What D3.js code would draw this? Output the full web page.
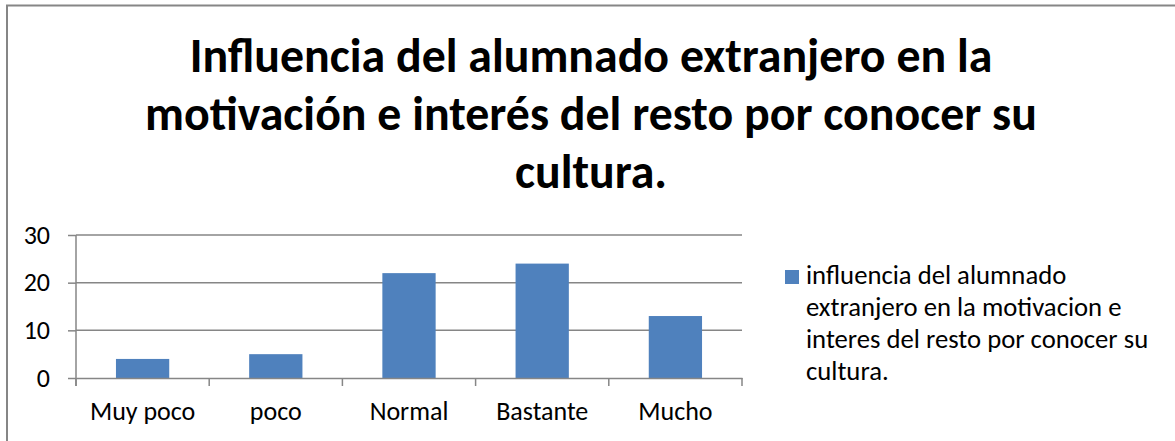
<!DOCTYPE html>
<meta charset="utf-8">
<style>
body { margin: 0; background: #fff; }
text { font-family: Calibri, Carlito, Lato, "Open Sans", sans-serif; fill: #000; }
.grid line { stroke: #868686; stroke-width: 1.5px; }
.axis path, .axis line { stroke: #868686; stroke-width: 1.5px; }
.axis text { font-size: 26px; }
</style>
<svg width="1175" height="441"></svg>
<script src="https://cdn.jsdelivr.net/npm/d3@7"></script>
<script>
var categories = ["Muy poco", "poco", "Normal", "Bastante", "Mucho"];
var values = [4, 5, 22, 24, 13];
var yTicks = [0, 10, 20, 30];
var titleLines = ["Influencia del alumnado extranjero en la",
                  "motivación e interés del resto por conocer su",
                  "cultura."];
var legendLines = ["influencia del alumnado",
                   "extranjero en la motivacion e",
                   "interes del resto por conocer su",
                   "cultura."];

var svg = d3.select("svg"),
    margin = {top: 235, left: 76},
    width = 742 - 76,
    height = 378 - 235,
    g = svg.append("g").attr("transform", "translate(" + margin.left + "," + margin.top + ")");

// chart border (right/bottom edges run off the picture)
svg.append("rect")
    .attr("x", 7).attr("y", 5.5)
    .attr("width", 1200).attr("height", 500)
    .style("fill", "none")
    .style("stroke", "#868686")
    .style("stroke-width", 2);

// title, scaled to the measured width of the first line
var title = svg.append("text")
    .attr("text-anchor", "middle")
    .style("font-weight", "bold")
    .style("font-size", "46px");
title.selectAll("tspan")
    .data(titleLines)
  .enter().append("tspan")
    .attr("x", 591)
    .attr("y", function(d, i) { return 72 + i * 58; })
    .text(function(d) { return d; });
var w0 = title.select("tspan").node().getComputedTextLength();
title.style("font-size", (46 * 803 / w0) + "px");

var x = d3.scaleBand().domain(categories).range([0, width]),
    y = d3.scaleLinear().domain([0, 30]).range([height, 0]);

g.append("g")
    .attr("class", "grid")
  .selectAll("line")
    .data(yTicks.slice(1))
  .enter().append("line")
    .attr("x1", 0).attr("x2", width)
    .attr("y1", function(d) { return y(d); })
    .attr("y2", function(d) { return y(d); });

g.selectAll(".bar")
    .data(values)
  .enter().append("rect")
    .attr("class", "bar")
    .attr("x", function(d, i) { return x(categories[i]) + x.bandwidth() * 0.3; })
    .attr("width", x.bandwidth() * 0.4)
    .attr("y", function(d) { return y(d); })
    .attr("height", function(d) { return height - y(d); })
    .style("fill", "#4F81BD");

var xAxis = g.append("g")
    .attr("class", "axis")
    .attr("transform", "translate(0," + height + ")")
    .call(d3.axisBottom(x).tickSize(0).tickSizeOuter(0));
xAxis.selectAll(".tick line").remove();
// Excel-style ticks between categories
xAxis.selectAll(".sep")
    .data(d3.range(categories.length + 1))
  .enter().append("line")
    .attr("x1", function(i) { return i * x.step(); })
    .attr("x2", function(i) { return i * x.step(); })
    .attr("y1", 0).attr("y2", 8);
xAxis.selectAll("text").attr("y", 42).attr("dy", 0);

var yAxis = g.append("g")
    .attr("class", "axis")
    .call(d3.axisLeft(y).tickValues(yTicks).tickSize(8).tickSizeOuter(0).tickPadding(18));
yAxis.select(".domain").attr("d", "M0," + (height + 8) + "V0");

// legend
var legend = svg.append("g");
legend.append("rect")
    .attr("x", 785).attr("y", 270)
    .attr("width", 14).attr("height", 14)
    .style("fill", "#4F81BD");
legend.append("text")
    .style("font-size", "26.7px")
  .selectAll("tspan")
    .data(legendLines)
  .enter().append("tspan")
    .attr("x", 806)
    .attr("y", function(d, i) { return 284 + i * 32; })
    .text(function(d) { return d; });
</script>
